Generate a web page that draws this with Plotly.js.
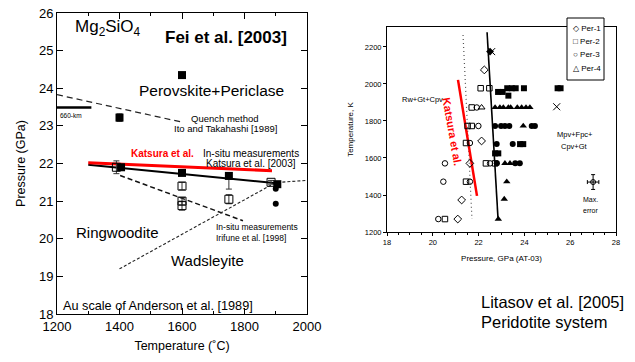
<!DOCTYPE html>
<html><head><meta charset="utf-8">
<script src="https://cdn.plot.ly/plotly-3.0.1.min.js"></script>
<style>html,body{margin:0;padding:0;background:#fff;}#c{width:635px;height:362px;}</style>
</head><body><div id="c"></div>
<script>
// ---------- Left chart: Fei et al. [2003], Mg2SiO4 ----------
const fsqT = [1400, 1600, 1405, 1600, 1750, 1905];
const fsqP = [23.22, 24.35, 21.9, 21.75, 21.67, 21.45];
const fsqErrUp = [0.1, 0, 0, 0.06, 0.05, 0];
const fsqErrDn = [0.1, 0, 0, 0.06, 0.35, 0];
const osqT = [1390, 1600, 1600, 1600, 1750, 1885];
const osqP = [21.9, 21.4, 21.0, 20.88, 21.05, 21.5];
const osqErr = [0.17, 0.1, 0.1, 0.12, 0.12, 0.05];
const fcirT = [1900, 1900];
const fcirP = [21.33, 20.93];
const katsuraT = [1300, 1888];
const katsuraP = [22.02, 21.81];
const feiT = [1300, 1895];
const feiP = [21.97, 21.48];
const quenchT = [1200, 1600];
const quenchP = [23.83, 23.1];
const irifuneT = [1402, 1795];
const irifuneP = [21.68, 20.48];
const wadsT = [1400, 1890, 1910, 2000];
const wadsP = [19.2, 21.45, 21.5, 21.55];
const km660T = [1200, 1310];
const km660P = [23.49, 23.49];

// ---------- Right chart: Litasov et al. [2005] ----------
const legendNames = ['Per-1', 'Per-2', 'Per-3', 'Per-4'];
const legendSymbols = ['◇', '□', '○', '△'];
const p1oX = [22.25, 22.13, 21.62, 21.26, 21.09];
const p1oT = [2076, 1692, 1571, 1373, 1270];
const p1fX = [22.5];
const p1fT = [2175];
const p2oX = [22.09, 22.47, 21.7, 21.52, 21.7, 21.45, 22.32, 22.72, 21.45, 20.53];
const p2oT = [1977, 1977, 1873, 1773, 1773, 1681, 1571, 1571, 1472, 1270];
const p2fX = [22.85, 23.05, 23.25, 23.45, 23.62, 23.3, 23.98, 25.45, 25.58, 23.81, 23.95, 22.72, 22.86];
const p2fT = [1957, 1957, 1977, 1977, 1977, 1937, 1977, 1977, 1977, 1675, 1675, 1625, 1625];
const p3oX = [21.92, 21.99, 21.62, 20.53, 22.5, 20.46, 21.62, 20.24];
const p3oT = [1873, 1773, 1681, 1571, 1571, 1472, 1472, 1270];
const p3fX = [22.72, 22.98, 23.15, 23.34, 24.32, 24.46, 22.79, 23.49, 22.8, 23.6, 23.8];
const p3fT = [1773, 1773, 1773, 1773, 1773, 1773, 1675, 1675, 1571, 1571, 1571];
const p4oX = [22.13];
const p4oT = [1873];
const p4fX = [22.72, 22.93, 23.08, 23.3, 23.4, 23.69, 23.88, 24.07, 24.24, 23.95, 23.15, 23.37, 23.23, 23.12, 22.86];
const p4fT = [1873, 1873, 1873, 1873, 1873, 1873, 1873, 1873, 1873, 1773, 1571, 1571, 1472, 1378, 1270];
const xMarkX = [22.57, 25.41];
const xMarkT = [2175, 1877];
const maxErrX = [27.0];
const maxErrT = [1470];
const boundaryX = [22.37, 22.85];
const boundaryT = [2280, 1268];
const katsuraRX = [21.1, 21.93];
const katsuraRT = [2022, 1395];
const dottedX = [21.32, 21.71];
const dottedT = [2265, 1270];

const F = 'Liberation Sans, Arial, sans-serif';
const L = {xaxis: 'x', yaxis: 'y'};
const R = {xaxis: 'x2', yaxis: 'y2'};

const traces = [
  // left lines
  Object.assign({x: quenchT, y: quenchP, mode: 'lines', line: {color: '#222', width: 1.2, dash: '6px,4px'}}, L),
  Object.assign({x: irifuneT, y: irifuneP, mode: 'lines', line: {color: '#111', width: 1.5, dash: '5px,3px'}}, L),
  Object.assign({x: wadsT, y: wadsP, mode: 'lines', line: {color: '#222', width: 1.1, dash: '3px,2px'}}, L),
  Object.assign({x: km660T, y: km660P, mode: 'lines', line: {color: '#000', width: 2.5}}, L),
  Object.assign({x: feiT, y: feiP, mode: 'lines', line: {color: '#000', width: 2}}, L),
  Object.assign({x: katsuraT, y: katsuraP, mode: 'lines', line: {color: '#ff0000', width: 3}}, L),
  // left markers
  Object.assign({x: osqT, y: osqP, mode: 'markers', marker: {symbol: 'square-open', size: 8, color: '#000', line: {width: 1}},
    error_y: {type: 'data', array: osqErr, color: '#333', thickness: 1, width: 3}}, L),
  Object.assign({x: fsqT, y: fsqP, mode: 'markers', marker: {symbol: 'square', size: 8, color: '#000'},
    error_y: {type: 'data', array: fsqErrUp, arrayminus: fsqErrDn, color: '#333', thickness: 1, width: 3}}, L),
  Object.assign({x: fcirT, y: fcirP, mode: 'markers', marker: {symbol: 'circle', size: 6, color: '#000'}}, L),

  // right lines
  Object.assign({x: dottedX, y: dottedT, mode: 'lines', line: {color: '#555', width: 1.2, dash: '1px,3px'}}, R),
  Object.assign({x: katsuraRX, y: katsuraRT, mode: 'lines', line: {color: '#ff0000', width: 2.5}}, R),
  Object.assign({x: boundaryX, y: boundaryT, mode: 'lines', line: {color: '#000', width: 1.6}}, R),
  // right markers
  Object.assign({name: legendNames[0], x: p1oX, y: p1oT, mode: 'markers', marker: {symbol: 'diamond-open', size: 6, color: '#000', line: {width: 1}}}, R),
  Object.assign({name: legendNames[1], x: p2oX, y: p2oT, mode: 'markers', marker: {symbol: 'square-open', size: 5.5, color: '#000', line: {width: 1}}}, R),
  Object.assign({name: legendNames[2], x: p3oX, y: p3oT, mode: 'markers', marker: {symbol: 'circle-open', size: 5.5, color: '#000', line: {width: 1}}}, R),
  Object.assign({name: legendNames[3], x: p4oX, y: p4oT, mode: 'markers', marker: {symbol: 'triangle-up-open', size: 6, color: '#000', line: {width: 1}}}, R),
  Object.assign({x: p1fX, y: p1fT, mode: 'markers', marker: {symbol: 'diamond', size: 6, color: '#000'}}, R),
  Object.assign({x: p2fX, y: p2fT, mode: 'markers', marker: {symbol: 'square', size: 6, color: '#000'}}, R),
  Object.assign({x: p3fX, y: p3fT, mode: 'markers', marker: {symbol: 'circle', size: 6, color: '#000'}}, R),
  Object.assign({x: p4fX, y: p4fT, mode: 'markers', marker: {symbol: 'triangle-up', size: 6.5, color: '#000'}}, R),
  Object.assign({x: xMarkX, y: xMarkT, mode: 'markers', marker: {symbol: 'x-thin-open', size: 7, color: '#000', line: {width: 1}}}, R),
  Object.assign({x: maxErrX, y: maxErrT, mode: 'markers', marker: {symbol: 'circle-open', size: 5, color: '#000', line: {width: 1}},
    error_x: {type: 'data', array: [0.25], color: '#000', thickness: 1, width: 2},
    error_y: {type: 'data', array: [40], color: '#000', thickness: 1, width: 2}}, R)
];

function ann(x, y, text, size, opts) {
  return Object.assign({x: x, y: y, xref: 'x', yref: 'y', text: text, showarrow: false,
    font: {family: F, size: size, color: '#000'}, xanchor: 'center', yanchor: 'middle'}, opts || {});
}
function annR(x, y, text, size, opts) {
  return ann(x, y, text, size, Object.assign({xref: 'x2', yref: 'y2'}, opts || {}));
}

const annotations = [
  ann(1251, 25.6, 'Mg<sub>2</sub>SiO<sub>4</sub>', 17, {xanchor: 'left'}),
  ann(1539, 25.36, '<b>Fei et al. [2003]</b>', 17, {xanchor: 'left'}),
  ann(1456, 23.95, 'Perovskite+Periclase', 15.5, {xanchor: 'left'}),
  ann(1738, 23.2, 'Quench method', 9.5),
  ann(1738, 22.93, 'Ito and Takahashi [1989]', 9.5),
  ann(1539, 22.27, '<b>Katsura et al.</b>', 10, {font: {family: F, size: 10, color: '#ff0000'}}),
  ann(1980, 22.27, 'In-situ measurements', 10, {xanchor: 'right'}),
  ann(1970, 22.0, 'Katsura et al. [2003]', 10, {xanchor: 'right'}),
  ann(1392, 20.16, 'Ringwoodite', 15),
  ann(1841, 20.3, 'In-situ measurements', 8.5),
  ann(1820, 20.02, 'Irifune et al. [1998]', 8.5),
  ann(1683, 19.42, 'Wadsleyite', 15),
  ann(1213, 18.21, 'Au scale of Anderson et al. [1989]', 12.7, {xanchor: 'left'}),
  ann(1203, 23.28, '660-km', 6.5, {xanchor: 'left'}),

  annR(19.55, 1917, 'Rw+Gt+Cpv', 7.5),
  annR(26.2, 1728, 'Mpv+Fpc+', 7.5),
  annR(26.2, 1661, 'Cpv+Gt', 7.5),
  annR(26.87, 1375, 'Max.', 7),
  annR(26.87, 1315, 'error', 7),
  annR(20.84, 1745, '<b>Katsura et al.</b>', 11, {textangle: 80, font: {family: F, size: 11, color: '#ff0000'}}),

  {x: 479 / 635, y: 1 - 302 / 362, xref: 'paper', yref: 'paper', text: 'Litasov et al. [2005]', showarrow: false,
    xanchor: 'left', yanchor: 'middle', font: {family: F, size: 16.5, color: '#000'}},
  {x: 479 / 635, y: 1 - 322 / 362, xref: 'paper', yref: 'paper', text: 'Peridotite system', showarrow: false,
    xanchor: 'left', yanchor: 'middle', font: {family: F, size: 16.5, color: '#000'}}
];

// legend box (right chart), drawn as text entries in a framed box
const legTop = 1 - 18 / 362, legStep = 13.4 / 362;
legendNames.forEach(function (n, i) {
  annotations.push({x: 571 / 635, y: 1 - (28 + i * 13.4) / 362, xref: 'paper', yref: 'paper',
    text: legendSymbols[i] + ' ' + n, showarrow: false, xanchor: 'left', yanchor: 'middle',
    font: {family: F, size: 8, color: '#000'}});
});
const shapes = [
  {type: 'rect', xref: 'paper', yref: 'paper', x0: 567 / 635, x1: 604 / 635, y0: 1 - 80 / 362, y1: legTop,
    line: {color: '#000', width: 1}, fillcolor: '#fff', layer: 'above'}
];

const layout = {
  width: 635, height: 362,
  margin: {l: 0, r: 0, t: 0, b: 0},
  paper_bgcolor: '#fff', plot_bgcolor: '#fff',
  font: {family: F, color: '#000'},
  showlegend: false,
  xaxis: {domain: [57 / 635, 307 / 635], anchor: 'y', range: [1200, 2000], dtick: 200, tick0: 1200,
    showgrid: false, zeroline: false, showline: true, linecolor: '#000', linewidth: 1, mirror: 'allticks',
    ticks: 'inside', ticklen: 6, tickcolor: '#000', tickfont: {family: F, size: 13, color: '#000'},
    minor: {dtick: 100, ticks: 'inside', ticklen: 3, tickcolor: '#000'},
    title: {text: 'Temperature (˚C)', font: {family: F, size: 12.5, color: '#000'}, standoff: 8}},
  yaxis: {domain: [1 - 314 / 362, 1 - 13 / 362], anchor: 'x', range: [18, 26], dtick: 1,
    showgrid: false, zeroline: false, showline: true, linecolor: '#000', linewidth: 1, mirror: 'allticks',
    ticks: 'inside', ticklen: 6, tickcolor: '#000', tickfont: {family: F, size: 13, color: '#000'},
    title: {text: 'Pressure (GPa)', font: {family: F, size: 12.5, color: '#000'}, standoff: 10}},
  xaxis2: {domain: [387 / 635, 616 / 635], anchor: 'y2', range: [18, 28], dtick: 2,
    showgrid: false, zeroline: false, showline: true, linecolor: '#000', linewidth: 1, mirror: true,
    ticks: 'outside', ticklen: 3, tickcolor: '#000', tickfont: {family: F, size: 7.5, color: '#000'},
    minor: {dtick: 0.5, ticks: 'outside', ticklen: 2, tickcolor: '#000'},
    title: {text: 'Pressure, GPa (AT-03)', font: {family: F, size: 8, color: '#000'}, standoff: 9}},
  yaxis2: {domain: [1 - 232 / 362, 1 - 27 / 362], anchor: 'x2', range: [1200, 2308], dtick: 200, tick0: 1200,
    showgrid: false, zeroline: false, showline: true, linecolor: '#000', linewidth: 1, mirror: true,
    ticks: 'outside', ticklen: 3, tickcolor: '#000', tickfont: {family: F, size: 7.5, color: '#000'},
    title: {text: 'Temperature, K', font: {family: F, size: 8, color: '#000'}, standoff: 10}},
  annotations: annotations,
  shapes: shapes
};

Plotly.newPlot('c', traces, layout, {displayModeBar: false, staticPlot: true});
</script>
</body></html>
